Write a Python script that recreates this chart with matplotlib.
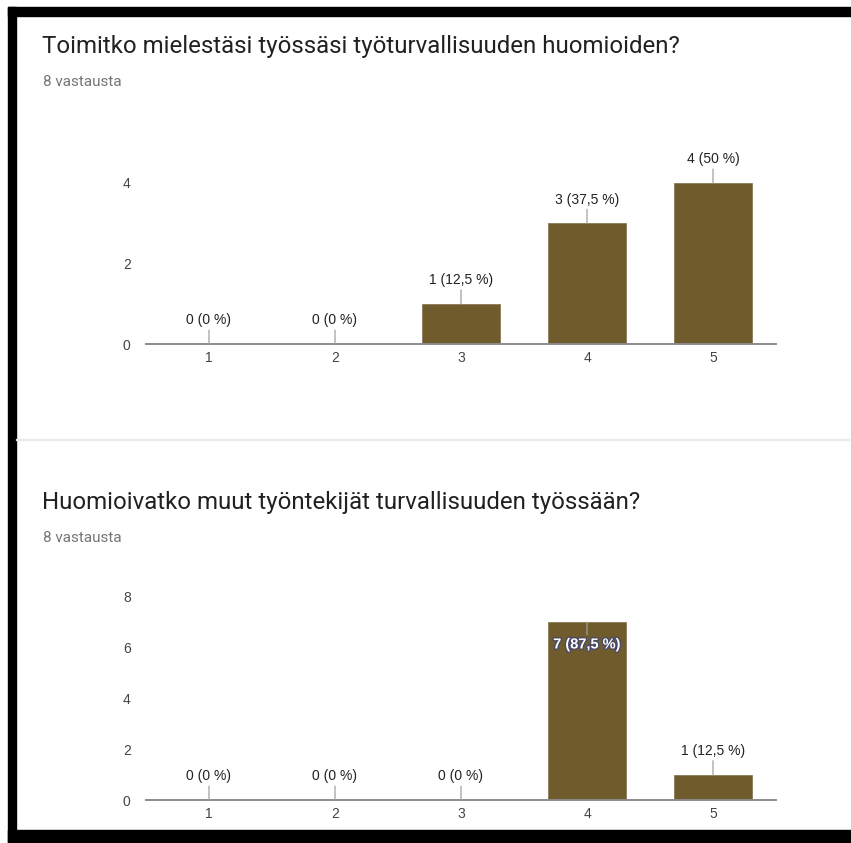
import matplotlib.pyplot as plt
import matplotlib.patheffects as pe
from matplotlib.patches import Rectangle

W, H = 851, 843

categories = ['1', '2', '3', '4', '5']
q1_title = 'Toimitko mielestäsi työssäsi työturvallisuuden huomioiden?'
q1_counts = [0, 0, 1, 3, 4]
q1_yticks = [0, 2, 4]
q2_title = 'Huomioivatko muut työntekijät turvallisuuden työssään?'
q2_counts = [0, 0, 0, 7, 1]
q2_yticks = [0, 2, 4, 6, 8]
q2_inside = [False, False, False, True, False]
responses = 8
subtitle = f'{responses} vastausta'

BAR = '#705b2d'


def fmt(count):
    pct = count / responses * 100
    return f"{count} ({pct:g} %)".replace('.', ',')


def px_axes(fig, left, top, right, bottom):
    # pixel box (from top-left) -> figure fractions
    return fig.add_axes([left / W, 1 - bottom / H, (right - left) / W, (bottom - top) / H])


def draw_chart(ax, counts, yticks, ytop, inside=None):
    x = range(len(categories))
    ax.bar(x, counts, width=0.62, color=BAR, edgecolor='#8a7a55', linewidth=0.6, zorder=2)
    ax.set_xlim(-0.5, len(categories) - 0.5)
    ax.set_ylim(0, ytop)
    ax.set_xticks(list(x))
    ax.set_xticklabels(categories)
    ax.set_yticks(yticks)
    ax.tick_params(length=0, labelsize=10, colors='#444444')
    ax.tick_params(axis='y', pad=11)
    ax.tick_params(axis='x', pad=5)
    for lab in ax.get_xticklabels() + ax.get_yticklabels():
        lab.set_fontfamily('Liberation Sans')
    for s in ['top', 'right', 'left']:
        ax.spines[s].set_visible(False)
    ax.spines['bottom'].set_color('#8c8c8c')
    ax.spines['bottom'].set_linewidth(1.4)
    ax.spines['bottom'].set_zorder(3)
    for i, c in enumerate(counts):
        inner = inside[i] if inside else False
        if inner:
            t = ax.annotate(fmt(c), xy=(i, c), xytext=(0, -11), textcoords='offset points',
                            ha='center', va='top', fontsize=10.5, color='white',
                            family='Liberation Sans', fontweight='bold',
                            arrowprops=dict(arrowstyle='-', color='#a0a0a0', lw=0.9,
                                            shrinkA=0, shrinkB=0, relpos=(0.5, 1)))
            t.set_path_effects([pe.withStroke(linewidth=2, foreground='#4a4a66')])
        else:
            ax.annotate(fmt(c), xy=(i, c), xytext=(0, 12), textcoords='offset points',
                        ha='center', va='bottom', fontsize=10, color='#222222',
                        family='Liberation Sans',
                        arrowprops=dict(arrowstyle='-', color='#a0a0a0', lw=0.9,
                                        shrinkA=0, shrinkB=0, relpos=(0.5, 0)),
                        zorder=4)


fig = plt.figure(figsize=(W / 100, H / 100), dpi=100)
fig.patch.set_facecolor('white')

# frame of the screenshot
fig.patches.append(Rectangle((8 / W, 1 - 16 / H), 1, 9 / H, transform=fig.transFigure,
                             color='black', zorder=0))
fig.patches.append(Rectangle((8 / W, 0), 8 / W, 1 - 7 / H, transform=fig.transFigure,
                             color='black', zorder=0))
fig.patches.append(Rectangle((8 / W, 1 - 843 / H), 1, 13 / H, transform=fig.transFigure,
                             color='black', zorder=0))
fig.patches.append(Rectangle((16 / W, 1 - 440 / H), 1, 1 / H, transform=fig.transFigure,
                             color='#ececec', zorder=0))

fig.text(42 / W, 1 - 53 / H, q1_title, fontsize=17.3, family='Roboto', color='#212121', va='baseline')
fig.text(43 / W, 1 - 86 / H, subtitle, fontsize=11, family='Roboto', color='#757575', va='baseline')
fig.text(42 / W, 1 - 509 / H, q2_title, fontsize=17.3, family='Roboto', color='#212121', va='baseline')
fig.text(43 / W, 1 - 542 / H, subtitle, fontsize=11, family='Roboto', color='#757575', va='baseline')

ax1 = px_axes(fig, 146, 140, 776, 344)
draw_chart(ax1, q1_counts, q1_yticks, 204 / 40.25)

ax2 = px_axes(fig, 146, 585, 776, 800)
draw_chart(ax2, q2_counts, q2_yticks, 215 / 25.4, q2_inside)

fig.savefig('out.png', dpi=100, facecolor='white')
